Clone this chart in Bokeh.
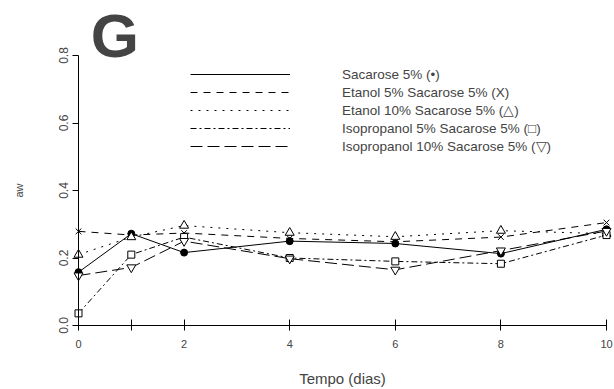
from bokeh.plotting import figure
from bokeh.models import (Range1d, LinearAxis, FixedTicker, Legend, LegendItem,
                          Label, BasicTickFormatter)
from bokeh.embed import file_html
from bokeh.resources import INLINE

# ---- data ----
dias = [0, 1, 2, 4, 6, 8, 10]
sacarose = [0.158, 0.272, 0.216, 0.250, 0.243, 0.213, 0.285]
etanol5 = [0.279, 0.268, 0.274, 0.258, 0.248, 0.262, 0.305]
etanol10 = [0.210, 0.262, 0.296, 0.275, 0.263, 0.281, 0.272]
isoprop5 = [0.036, 0.210, 0.262, 0.200, 0.190, 0.183, 0.268]
isoprop10 = [0.148, 0.172, 0.250, 0.198, 0.165, 0.222, 0.280]
series_labels = ["Sacarose 5% (\u2022)",
                 "Etanol 5% Sacarose 5% (X)",
                 "Etanol 10% Sacarose 5% (\u25b3)",
                 "Isopropanol 5% Sacarose 5% (\u25a1)",
                 "Isopropanol 10% Sacarose 5% (\u25bd)"]
x_ticks = [0, 1, 2, 4, 6, 8, 10]
y_ticks = [0.0, 0.2, 0.4, 0.6, 0.8]
y_tick_labels = ["0.0", "0.2", "0.4", "0.6", "0.8"]
x_title = "Tempo (dias)"
y_title = "aw"

FONT = "Liberation Sans"
sx = 52.8    # px per day
sy = 337.5   # px per aw unit
W, H = 614, 389
x0_px = 78   # page x of day 0
y0_px = 325  # page y of aw 0
p = figure(width=W, height=H,
           x_range=Range1d(-x0_px / sx, (W - x0_px) / sx),
           y_range=Range1d(-(H - y0_px) / sy, y0_px / sy),
           output_backend="svg", toolbar_location=None,
           x_axis_type=None, y_axis_type=None,
           min_border_left=0, min_border_right=0, min_border_top=0,
           min_border_bottom=0)
p.outline_line_color = None
p.background_fill_color = "white"
p.border_fill_color = "white"
p.xgrid.visible = False
p.ygrid.visible = False

xaxis = LinearAxis(ticker=FixedTicker(ticks=x_ticks), bounds=(0, 10),
                   fixed_location=0, major_label_overrides={1: ""})
xaxis.major_tick_in = 6
xaxis.major_tick_out = 5
xaxis.minor_tick_line_color = None
xaxis.major_label_standoff = 9
xaxis.major_label_text_font = FONT
xaxis.major_label_text_font_size = "11px"
p.add_layout(xaxis, "below")

yaxis = LinearAxis(ticker=FixedTicker(ticks=y_ticks), bounds=(0, 0.8),
                   fixed_location=0, formatter=BasicTickFormatter(precision=1),
                   major_label_overrides={0: y_tick_labels[0]},
                   axis_label=y_title)
yaxis.major_label_orientation = "vertical"
yaxis.major_tick_in = 0
yaxis.major_tick_out = 6
yaxis.minor_tick_line_color = None
yaxis.major_label_standoff = 5
yaxis.axis_label_standoff = 31
yaxis.major_label_text_font = FONT
yaxis.major_label_text_font_size = "12px"
yaxis.axis_label_text_font = FONT
yaxis.axis_label_text_font_size = "11px"
yaxis.axis_label_text_font_style = "normal"
p.add_layout(yaxis, "left")

all_series = [sacarose, etanol5, etanol10, isoprop5, isoprop10]
dashes = ["solid", "7 6", "2 6", "6 3 2 3", "12 5"]
markers = ["circle", "x", "triangle", "square", "inverted_triangle"]
fills = ["black", "black", "white", "white", "white"]
sizes = [7, 8, 9, 7, 9]

line_rs = []
for vals, dash in zip(all_series, dashes):
    r = p.line(dias, vals, line_color="black", line_width=1, line_dash=dash)
    line_rs.append(r)
for vals, m, f, sz in zip(all_series, markers, fills, sizes):
    p.scatter(dias, vals, marker=m, size=sz, line_color="black",
              fill_color=f, line_width=1)

items = [LegendItem(label=lab, renderers=[r]) for lab, r in zip(series_labels, line_rs)]

# legend location is measured from the frame's bottom-left corner
legend = Legend(items=items, location=(190, H - 155), glyph_width=100,
                glyph_height=18, label_height=18, spacing=0,
                label_standoff=52, padding=0, margin=0,
                border_line_color=None, background_fill_alpha=0,
                label_text_font=FONT, label_text_font_size="13.5px")
p.add_layout(legend)

# x-axis title, centred under the 0..10 axis
xt = Label(x=5, y=-53 / sy, text=x_title, text_font=FONT, text_font_size="15px",
           text_align="center", text_baseline="middle")
p.add_layout(xt)

g = Label(x=0.69, y=0.86, text="G", text_font=FONT, text_font_size="62px",
          text_font_style="bold", text_align="center", text_baseline="middle")
p.add_layout(g)

open("out.html", "w").write(file_html(p, INLINE))
